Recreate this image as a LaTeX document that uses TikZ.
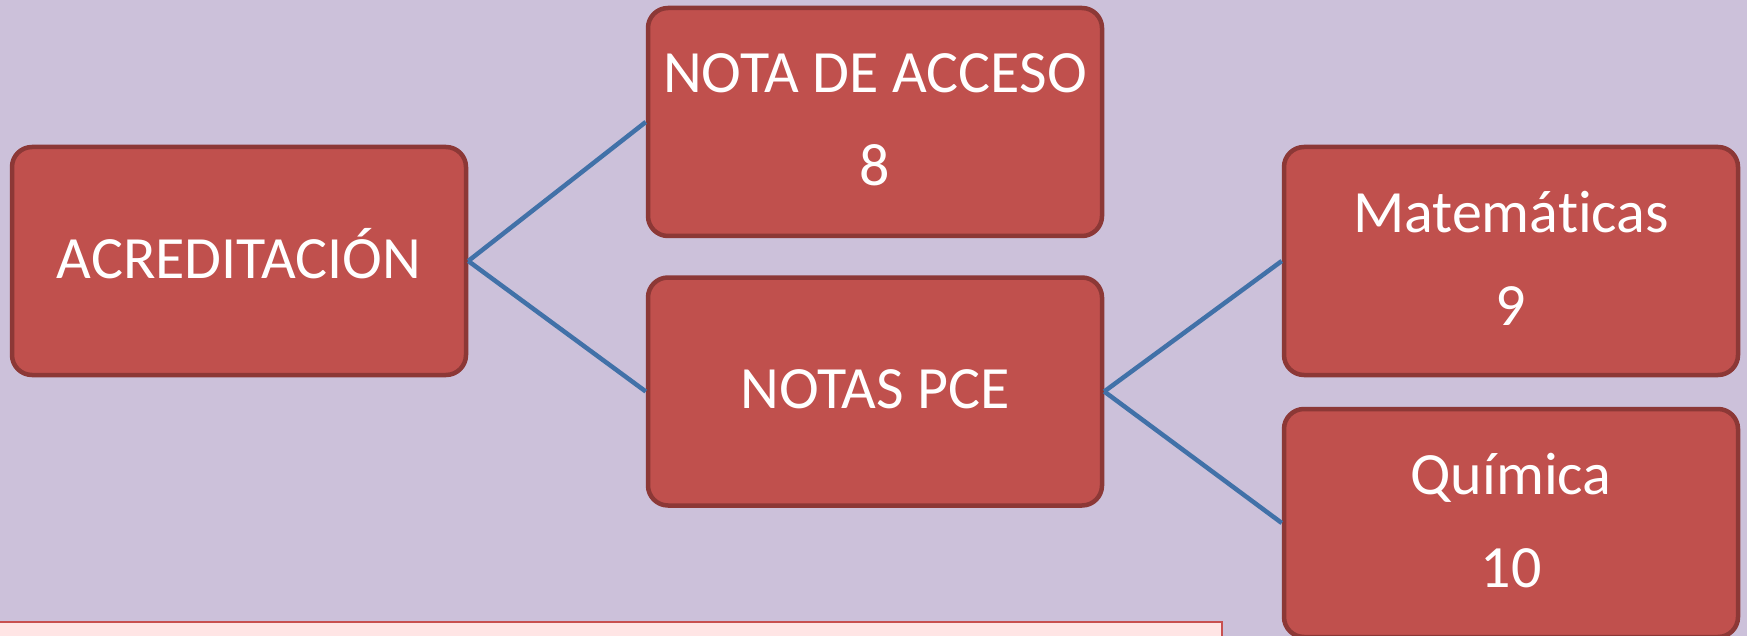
\documentclass[tikz,border=0pt]{standalone}
\usepackage{fontspec}
\setmainfont{Carlito}[Ligatures={NoCommon,NoRare,NoContextual}, Contextuals=NoAlternate]
\definecolor{fondo}{RGB}{204,193,218}
\definecolor{rojocaja}{RGB}{192,80,77}
\definecolor{bordecaja}{RGB}{140,56,54}
\definecolor{azulrama}{RGB}{65,113,168}
\definecolor{rosanota}{RGB}{255,229,229}
\definecolor{bordenota}{RGB}{200,80,80}
\newcommand{\doslineas}[2]{\rule{0pt}{48pt}#1\\#2\rule[-13pt]{0pt}{13pt}}

\begin{document}
\begin{tikzpicture}[x=1pt, y=-1pt,
    caja/.style={draw=bordecaja, fill=rojocaja, line width=4.5pt, rounded corners=20pt,
      minimum width=454pt, minimum height=228pt, inner sep=0pt, text=white,
      font=\fontsize{60}{93}\selectfont, align=center},
    unalinea/.style={text height=38pt, text depth=4pt},
    rama/.style={draw=azulrama, line width=4.5pt}]
    \fill[fondo] (0,0) rectangle (1747,636);
    \useasboundingbox (0,0) rectangle (1747,636);

    \node[caja, unalinea] (acred) at (239,261) {ACREDITACIÓN};
    \node[caja] (acceso) at (875,122) {\doslineas{NOTA DE ACCESO}{8}};
    \node[caja, unalinea] (pce) at (875,391.5) {NOTAS PCE};
    \node[caja] (mate) at (1511,261) {\doslineas{Matemáticas}{9}};
    \node[caja] (quim) at (1511,523) {\doslineas{Química}{10}};

    \draw[rama] (acred.east) -- (acceso.west);
    \draw[rama] (acred.east) -- (pce.west);
    \draw[rama] (pce.east) -- (mate.west);
    \draw[rama] (pce.east) -- (quim.west);

    % recuadro de abajo
    \draw[draw=bordenota, fill=rosanota, line width=2pt] (-10,622) rectangle (1222,660);
\end{tikzpicture}
\end{document}
